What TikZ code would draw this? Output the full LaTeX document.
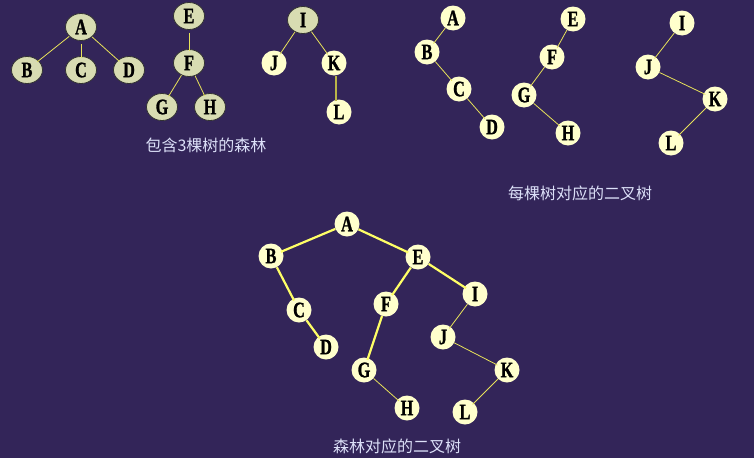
\documentclass[tikz,border=0pt]{standalone}
\usepackage{fontspec}
\usetikzlibrary{shapes.geometric}
\newfontfamily\cjk{Noto Sans CJK SC}
\newfontfamily\nodefont[FakeStretch=0.74,FakeBold=1.2]{Liberation Serif}
\definecolor{bg}{RGB}{51,37,89}
\definecolor{greenfill}{RGB}{216,220,178}
\definecolor{ylw}{RGB}{255,255,204}
\definecolor{edge}{RGB}{232,226,90}
\definecolor{thickedge}{RGB}{255,255,102}
\definecolor{lbl}{RGB}{220,224,248}
\begin{document}
\begin{tikzpicture}[x=1pt,y=-1pt,
  fnode/.style={ellipse,draw=black!80,line width=0.8pt,fill=greenfill,minimum width=31pt,minimum height=27pt,inner sep=0pt,font=\nodefont\bfseries\fontsize{22}{22}\selectfont},
  ynode/.style={circle,fill=ylw,minimum size=25pt,inner sep=0pt,font=\nodefont\bfseries\fontsize{22}{22}\selectfont},
  thinedge/.style={draw=edge,line width=0.8pt},
  thickedge/.style={draw=thickedge,line width=2.2pt},
  lab/.style={text=lbl,font=\cjk\fontsize{16}{16}\selectfont}]
\useasboundingbox (0,0) rectangle (754,458);
\fill[bg] (0,0) rectangle (754,458);
\begin{scope}[shorten >=-2pt]
% forest
\node[fnode] (fA) at (81,27) {A};
\node[fnode] (fB) at (27,70) {B};
\node[fnode] (fC) at (81,70) {C};
\node[fnode] (fD) at (129,70) {D};
\node[fnode] (fE) at (189,16) {E};
\node[fnode] (fF) at (189,63) {F};
\node[fnode] (fG) at (162,107) {G};
\node[fnode] (fH) at (210,107) {H};
\node[fnode] (fI) at (303,20) {I};
\node[ynode] (fJ) at (274,63) {J};
\node[ynode] (fK) at (334,63) {K};
\node[ynode] (fL) at (339,112) {L};
\draw[thinedge] (fA) -- (fB);
\draw[thinedge,shorten <=3pt] (fA) -- (fC);
\draw[thinedge] (fA) -- (fD);
\draw[thinedge,shorten <=3pt] (fE) -- (fF);
\draw[thinedge] (fF) -- (fG);
\draw[thinedge] (fF) -- (fH);
\draw[thinedge] (fI) -- (fJ);
\draw[thinedge] (fI) -- (fK);
\draw[draw=edge!80!black,line width=1.2pt] (fK.south -| 336,0) -- (fL.north -| 336,0);
\node[lab] (t1) at (206,145) {包含3棵树的森林};
% binary trees of each tree
\node[ynode] (bA) at (453,18) {A};
\node[ynode] (bB) at (427,52) {B};
\node[ynode] (bC) at (459,89) {C};
\node[ynode] (bD) at (492,127) {D};
\node[ynode] (bE) at (573,19) {E};
\node[ynode] (bF) at (552,57) {F};
\node[ynode] (bG) at (524,95) {G};
\node[ynode] (bH) at (568,133) {H};
\node[ynode] (bI) at (682,23) {I};
\node[ynode] (bJ) at (648,67) {J};
\node[ynode] (bK) at (715,99) {K};
\node[ynode] (bL) at (671,143) {L};
\draw[thinedge] (bA) -- (bB);
\draw[thinedge] (bB) -- (bC);
\draw[thinedge] (bC) -- (bD);
\draw[thinedge] (bE) -- (bF);
\draw[thinedge] (bF) -- (bG);
\draw[thinedge] (bG) -- (bH);
\draw[thinedge] (bI) -- (bJ);
\draw[thinedge] (bJ) -- (bK);
\draw[thinedge] (bK) -- (bL);
\node[lab] (t2) at (580,193) {每棵树对应的二叉树};
% combined binary tree
\node[ynode] (cA) at (347,224) {A};
\node[ynode] (cB) at (271,256) {B};
\node[ynode] (cC) at (299,310) {C};
\node[ynode] (cD) at (326,347) {D};
\node[ynode] (cE) at (418,257) {E};
\node[ynode] (cF) at (386,304) {F};
\node[ynode] (cG) at (364,370) {G};
\node[ynode] (cH) at (407,408) {H};
\node[ynode] (cI) at (475,294) {I};
\node[ynode] (cJ) at (443,337) {J};
\node[ynode] (cK) at (507,370) {K};
\node[ynode] (cL) at (465,412) {L};
\draw[thickedge] (cA) -- (cB);
\draw[thickedge] (cA) -- (cE);
\draw[thickedge] (cB) -- (cC);
\draw[thickedge] (cC) -- (cD);
\draw[thickedge] (cE) -- (cF);
\draw[thickedge] (cE) -- (cI);
\draw[thickedge] (cF) -- (cG);
\draw[thinedge] (cG) -- (cH);
\draw[thinedge] (cI) -- (cJ);
\draw[thinedge] (cJ) -- (cK);
\draw[thinedge] (cK) -- (cL);
\node[lab] (t3) at (397,446) {森林对应的二叉树};
\end{scope}
\end{tikzpicture}
\end{document}
